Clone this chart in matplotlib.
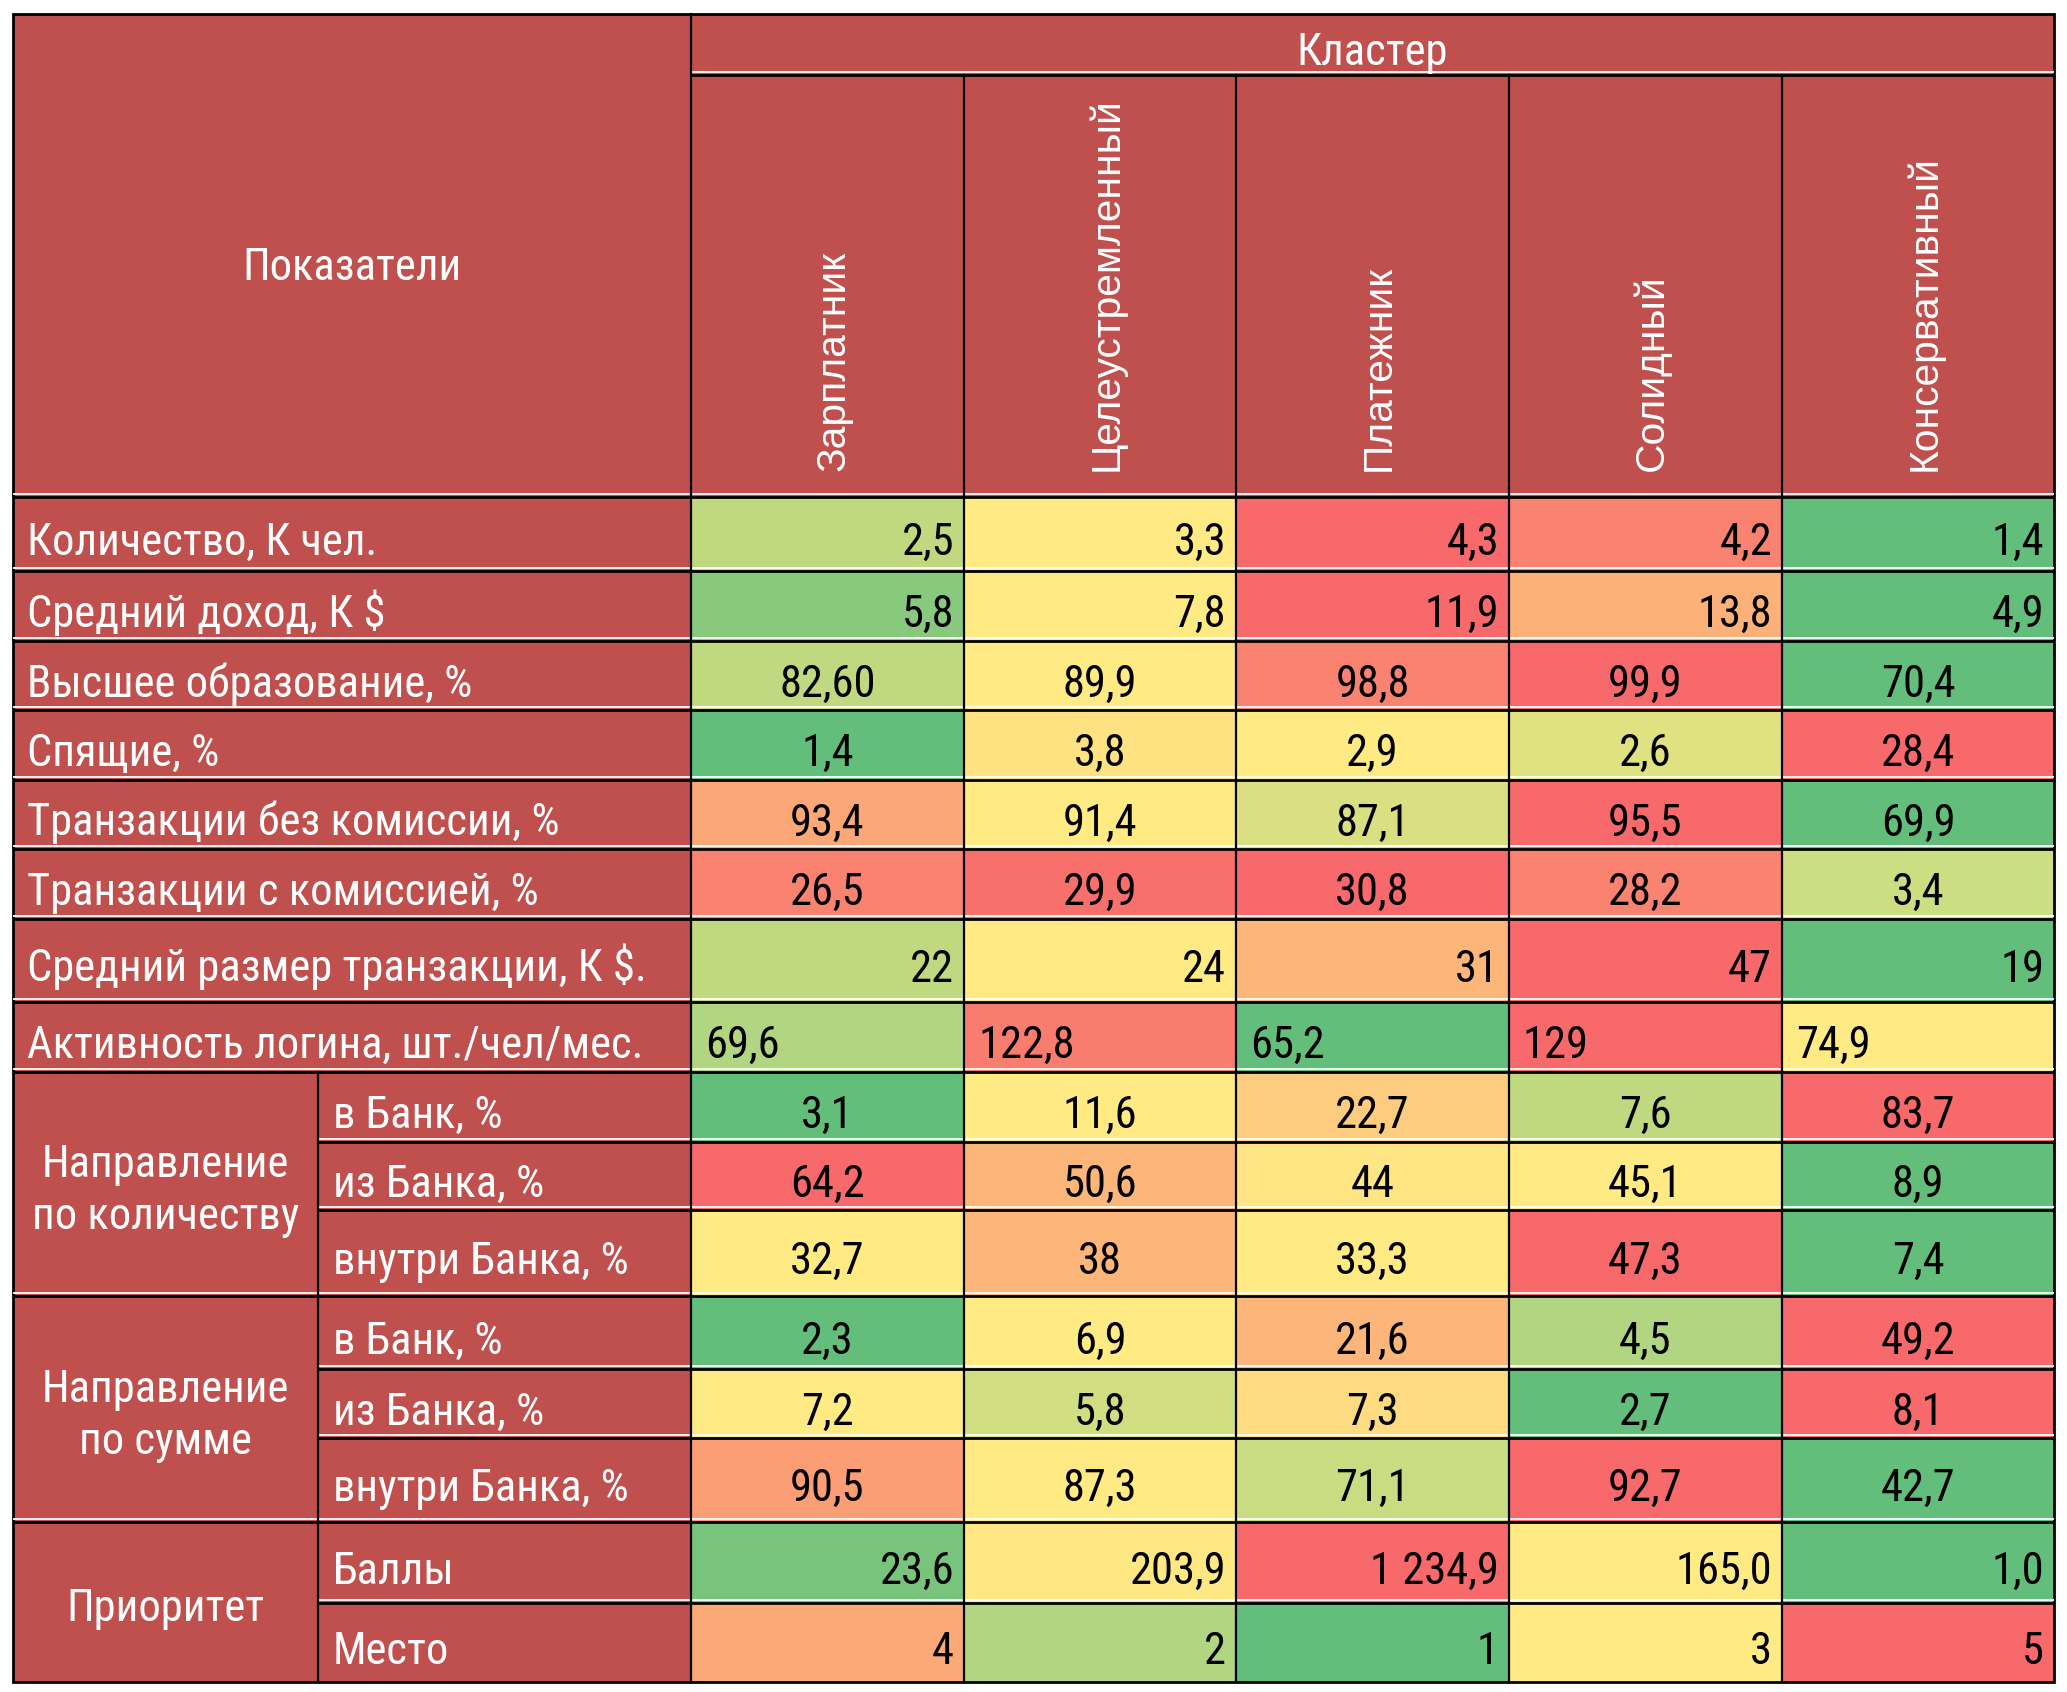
import numpy as np
import matplotlib
matplotlib.use('Agg')
import matplotlib.pyplot as plt
from matplotlib.colors import LinearSegmentedColormap
from matplotlib.patches import Rectangle

#%% Daten

clusters = ['Зарплатник', 'Целеустремленный', 'Платежник', 'Солидный', 'Консервативный']

indicators = ['Количество, К чел.',
              'Средний доход, К $',
              'Высшее образование, %',
              'Спящие, %',
              'Транзакции без комиссии, %',
              'Транзакции с комиссией, %',
              'Средний размер транзакции, К $.',
              'Активность логина, шт./чел/мес.',
              'в Банк, %', 'из Банка, %', 'внутри Банка, %',
              'в Банк, %', 'из Банка, %', 'внутри Банка, %',
              'Баллы', 'Место']

# (Gruppenname, erste Zeile, letzte Zeile + 1)
groups = [('Направление\nпо количеству', 8, 11),
          ('Направление\nпо сумме', 11, 14),
          ('Приоритет', 14, 16)]

cell_text = [['2,5', '3,3', '4,3', '4,2', '1,4'],
             ['5,8', '7,8', '11,9', '13,8', '4,9'],
             ['82,60', '89,9', '98,8', '99,9', '70,4'],
             ['1,4', '3,8', '2,9', '2,6', '28,4'],
             ['93,4', '91,4', '87,1', '95,5', '69,9'],
             ['26,5', '29,9', '30,8', '28,2', '3,4'],
             ['22', '24', '31', '47', '19'],
             ['69,6', '122,8', '65,2', '129', '74,9'],
             ['3,1', '11,6', '22,7', '7,6', '83,7'],
             ['64,2', '50,6', '44', '45,1', '8,9'],
             ['32,7', '38', '33,3', '47,3', '7,4'],
             ['2,3', '6,9', '21,6', '4,5', '49,2'],
             ['7,2', '5,8', '7,3', '2,7', '8,1'],
             ['90,5', '87,3', '71,1', '92,7', '42,7'],
             ['23,6', '203,9', '1 234,9', '165,0', '1,0'],
             ['4', '2', '1', '3', '5']]

# Position auf der Farbskala (0 = gruen, 0.5 = gelb, 1 = rot), aus dem Bild gelesen
heat = [[0.30, 0.50, 1.00, 0.90, 0.00],
        [0.12, 0.50, 1.00, 0.72, 0.00],
        [0.30, 0.50, 0.90, 1.00, 0.00],
        [0.00, 0.53, 0.50, 0.40, 1.00],
        [0.76, 0.50, 0.38, 1.00, 0.00],
        [0.90, 0.97, 1.00, 0.90, 0.34],
        [0.30, 0.50, 0.70, 1.00, 0.00],
        [0.25, 0.92, 0.00, 1.00, 0.50],
        [0.00, 0.50, 0.62, 0.30, 1.00],
        [1.00, 0.70, 0.52, 0.50, 0.00],
        [0.50, 0.70, 0.50, 1.00, 0.00],
        [0.00, 0.50, 0.70, 0.25, 1.00],
        [0.50, 0.35, 0.56, 0.00, 1.00],
        [0.80, 0.50, 0.33, 1.00, 0.00],
        [0.07, 0.51, 1.00, 0.50, 0.00],
        [0.75, 0.25, 0.00, 0.50, 1.00]]

#%% Layout (Pixel)

W, H = 2067, 1692
x_left, x_sub, x_data = 13, 318, 691
col_edges = [691, 964, 1236, 1509, 1782, 2054]
y_top, y_mid, y_head = 14, 75, 497
row_edges = [497, 571, 641, 710, 780, 849, 919, 1002, 1072,
             1142, 1210, 1296, 1369, 1438, 1522, 1603, 1682]
align = ['right', 'right', 'center', 'center', 'center', 'center', 'right', 'left',
         'center', 'center', 'center', 'center', 'center', 'center', 'right', 'right']

kopf = '#C0504D'
cmap = LinearSegmentedColormap.from_list('excel', ['#63BE7B', '#FFEB84', '#F8696B'])

narrow = ['Roboto Condensed', 'Liberation Sans', 'DejaVu Sans']
wide = ['Liberation Sans', 'DejaVu Sans']
fs = 32
base_off = 21   # Grundlinie unter der Zellmitte

#%% Plot

fig = plt.figure(figsize=(W / 100, H / 100), dpi=100)
ax = fig.add_axes([0, 0, 1, 1])
ax.set_xlim(0, W)
ax.set_ylim(H, 0)
ax.axis('off')

# Kopf
ax.add_patch(Rectangle((x_left, y_top), col_edges[-1] - x_left, y_head - y_top,
                       facecolor=kopf, edgecolor='none'))
ax.text((x_left + x_data) / 2, 268, 'Показатели', color='white', fontsize=fs,
        family=narrow, ha='center', va='center')
ax.text((x_data + col_edges[-1]) / 2, 65, 'Кластер', color='white', fontsize=fs,
        family=narrow, ha='center', va='baseline')
for j, name in enumerate(clusters):
    xc = (col_edges[j] + col_edges[j + 1]) / 2
    ax.text(xc + 6, 471, name, color='white', fontsize=29.3, family=wide,
            rotation=90, ha='center', va='bottom')

# Zeilenbeschriftung
ax.add_patch(Rectangle((x_left, y_head), x_data - x_left, row_edges[-1] - y_head,
                       facecolor=kopf, edgecolor='none'))
in_group = set()
for gname, a, b in groups:
    in_group.update(range(a, b))
    ax.text((x_left + x_sub) / 2, (row_edges[a] + row_edges[b]) / 2 + 7, gname,
            color='white', fontsize=fs, family=narrow, ha='center', va='center',
            linespacing=1.3)
for i, lab in enumerate(indicators):
    xl = x_sub + 15 if i in in_group else x_left + 14
    yb = (row_edges[i] + row_edges[i + 1]) / 2 + base_off
    ax.text(xl, yb, lab, color='white', fontsize=fs,
            family=narrow, ha='left', va='baseline')

# Zellen
for i in range(len(indicators)):
    y0, y1 = row_edges[i], row_edges[i + 1]
    yb = (y0 + y1) / 2 + base_off
    for j in range(len(clusters)):
        x0, x1 = col_edges[j], col_edges[j + 1]
        ax.add_patch(Rectangle((x0, y0), x1 - x0, y1 - y0,
                               facecolor=cmap(heat[i][j]), edgecolor='none'))
        if align[i] == 'right':
            xt = x1 - 10
        elif align[i] == 'left':
            xt = x0 + 14
        else:
            xt = (x0 + x1) / 2
        ax.text(xt, yb, cell_text[i][j], color='black', fontsize=fs,
                family=narrow, ha=align[i], va='baseline')

# Linien
def hline(y, xa, xb):
    ax.plot([xa, xb], [y - 3, y - 3], color='white', lw=1.3, solid_capstyle='butt')
    ax.plot([xa, xb], [y, y], color='black', lw=2.0, solid_capstyle='butt')

hline(y_mid, x_data, col_edges[-1])
hline(y_head, x_left, col_edges[-1])
group_inner = set()
for _, a, b in groups:
    group_inner.update(range(a + 1, b))
for k in range(1, len(row_edges) - 1):
    xa = x_sub if k in group_inner else x_left
    hline(row_edges[k], xa, col_edges[-1])

for x in col_edges[1:-1]:
    ax.plot([x, x], [y_mid, row_edges[-1]], color='black', lw=1.6)
ax.plot([x_data, x_data], [y_top, row_edges[-1]], color='black', lw=1.6)
ax.plot([x_sub, x_sub], [row_edges[groups[0][1]], row_edges[-1]], color='black', lw=1.6)
ax.add_patch(Rectangle((x_left, y_top), col_edges[-1] - x_left, row_edges[-1] - y_top,
                       facecolor='none', edgecolor='black', lw=2.0))

fig.savefig('out.png', dpi=100, facecolor='white')
